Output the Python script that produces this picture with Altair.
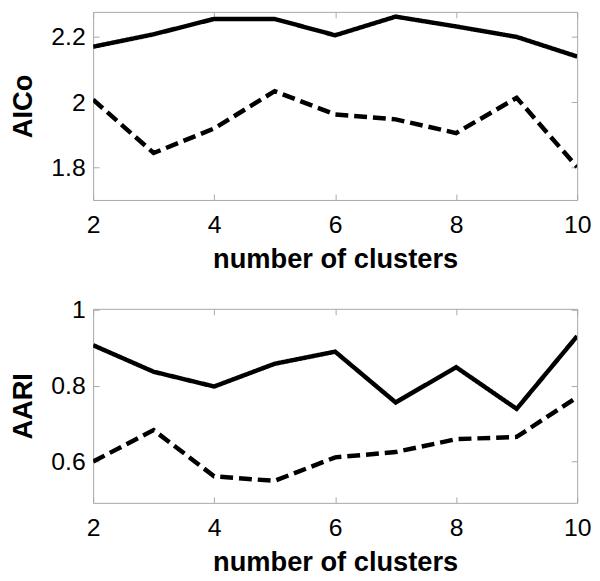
import altair as alt
import pandas as pd

k = [2, 3, 4, 5, 6, 7, 8, 9, 10]
aico_solid = [2.170, 2.208, 2.255, 2.255, 2.205, 2.262, 2.232, 2.200, 2.140]
aico_dashed = [2.008, 1.845, 1.920, 2.034, 1.963, 1.948, 1.906, 2.014, 1.802]
aari_solid = [0.907, 0.837, 0.798, 0.858, 0.890, 0.756, 0.849, 0.739, 0.931]
aari_dashed = [0.600, 0.683, 0.561, 0.549, 0.611, 0.625, 0.659, 0.665, 0.770]

x_ticks = [2, 4, 6, 8, 10]
aico_ticks = [1.8, 2.0, 2.2]
aari_ticks = [0.6, 0.8, 1.0]
x_title = "number of clusters"

GRAY = "#a8a8a8"
W = 489
FONT = "Liberation Sans"


def make_df(solid, dashed):
    rows = []
    for kk, v in zip(k, solid):
        rows.append({"k": kk, "v": v, "s": "solid"})
    for kk, v in zip(k, dashed):
        rows.append({"k": kk, "v": v, "s": "dashed"})
    return pd.DataFrame(rows)


def panel(df, ytitle, ydomain, yticks, height):
    base = alt.Chart(df)
    xs = alt.Scale(domain=[2, 10], nice=False)
    ys = alt.Scale(domain=ydomain, nice=False, zero=False)
    main = base.mark_line(color="black", strokeWidth=4.5, clip=True).encode(
        x=alt.X("k:Q", scale=xs, axis=alt.Axis(
            values=x_ticks, title=x_title, ticks=False, domain=False, grid=False,
            labelPadding=13, titlePadding=8, format="d", labelFlush=False)),
        y=alt.Y("v:Q", scale=ys, axis=alt.Axis(
            values=yticks, title=ytitle, ticks=False, domain=False, grid=False,
            labelPadding=8, titlePadding=14, format="~g", labelFlush=False)),
        strokeDash=alt.StrokeDash("s:N", scale=alt.Scale(
            domain=["solid", "dashed"], range=[[1, 0], [13, 6]]), legend=None),
    )
    t1 = base.mark_line(opacity=0).encode(
        x=alt.X("k:Q", scale=xs, axis=alt.Axis(
            orient="top", offset=-height, values=x_ticks, labels=False, title=None,
            domain=False, grid=False, ticks=True, tickSize=6, tickColor=GRAY)),
        y=alt.Y("v:Q", scale=ys, axis=alt.Axis(
            orient="right", offset=-W, values=yticks, labels=False, title=None,
            domain=False, grid=False, ticks=True, tickSize=6, tickColor=GRAY)),
    )
    t2 = base.mark_line(opacity=0).encode(
        x=alt.X("k:Q", scale=xs, axis=alt.Axis(
            orient="bottom", offset=-height, values=x_ticks, labels=False, title=None,
            domain=False, grid=False, ticks=True, tickSize=6, tickColor=GRAY)),
        y=alt.Y("v:Q", scale=ys, axis=alt.Axis(
            orient="left", offset=-W, values=yticks, labels=False, title=None,
            domain=False, grid=False, ticks=True, tickSize=6, tickColor=GRAY)),
    )
    return alt.layer(main, t1, t2).resolve_axis(x="independent", y="independent").properties(
        width=W, height=height)


top = panel(make_df(aico_solid, aico_dashed), "AICo", [1.7015, 2.2765], aico_ticks, 190)
bottom = panel(make_df(aari_solid, aari_dashed), "AARI", [0.491, 1.003], aari_ticks, 196)

chart = alt.VConcatChart(vconcat=[top, bottom], spacing=110, bounds="flush").properties(
    padding={"left": 0, "top": 0, "right": 0, "bottom": 0},
    background="white",
).configure_view(stroke=GRAY, strokeWidth=1).configure_axis(
    labelFont=FONT, labelFontSize=25, labelColor="black",
    titleFont=FONT, titleFontSize=27.5, titleFontWeight="bold", titleColor="black",
)

chart.save("out.html", embed_options={"renderer": "svg", "actions": False})
